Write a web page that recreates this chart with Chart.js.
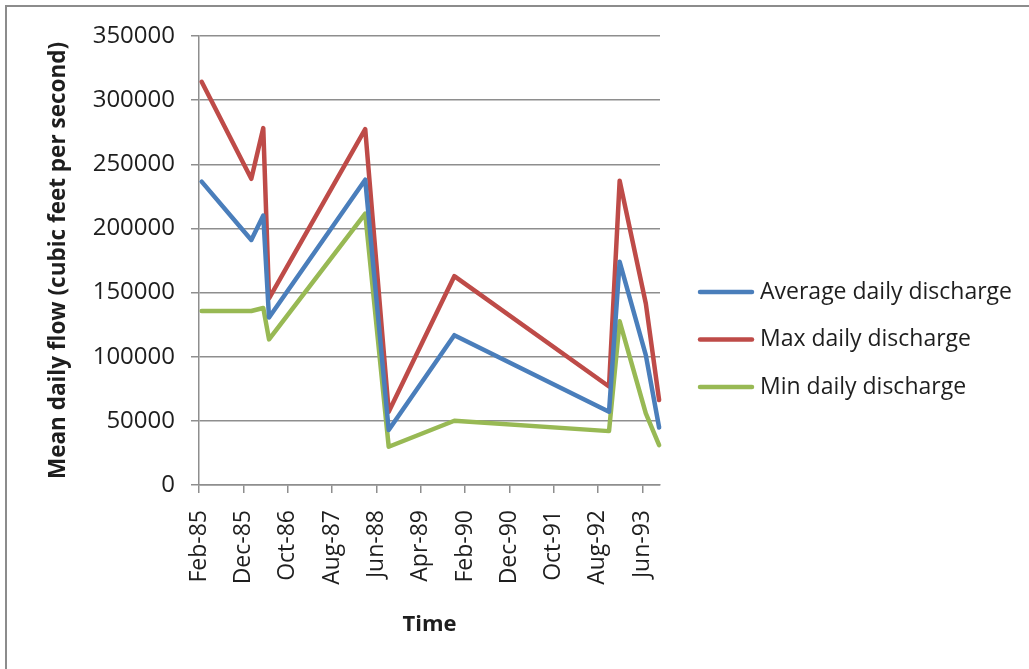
<!DOCTYPE html>
<html>
<head>
<meta charset="utf-8">
<script src="https://cdn.jsdelivr.net/npm/chart.js@4.4.1/dist/chart.umd.min.js"></script>
<style>
  html, body { margin: 0; padding: 0; background: #ffffff; }
  #wrap { position: relative; width: 1029px; height: 669px; overflow: hidden; }
  #frame { position: absolute; left: 5px; top: 5px; width: 1100px; height: 700px;
           border-left: 2px solid #8c8c8c; border-top: 2px solid #8c8c8c; box-sizing: border-box; }
  canvas { position: absolute; left: 0; top: 0; }
</style>
</head>
<body>
<div id="wrap">
  <div id="frame"></div>
  <canvas id="chart" width="1029" height="669"></canvas>
</div>
<script>
// Sample dates, as months counted from Feb 1985
const monthOffsets = [0.6, 11.8, 14.5, 15.8, 37.5, 42.8, 57.6, 92.5, 94.9, 100.8, 103.8];

// Discharge in cubic feet per second
const avgDischarge = [236500, 191000, 210000, 130500, 238000, 42800, 116800, 57100, 174000, 101200, 44800];
const maxDischarge = [314300, 238700, 278200, 145400, 277400, 57100, 162800, 76800, 237200, 141500, 66200];
const minDischarge = [135600, 135600, 138000, 113500, 211600, 29800, 50100, 42000, 127600, 55800, 31100];

// Date labels, one every ten months
const tickLabels = ['Feb-85', 'Dec-85', 'Oct-86', 'Aug-87', 'Jun-88', 'Apr-89',
                    'Feb-90', 'Dec-90', 'Oct-91', 'Aug-92', 'Jun-93'];

const seriesNames = ['Average daily discharge', 'Max daily discharge', 'Min daily discharge'];
const seriesColors = ['#4A7EBB', '#BE4B48', '#98B954'];

const toPoints = vals => monthOffsets.map((m, i) => ({ x: m, y: vals[i] }));

const FONT = '"Open Sans", "DejaVu Sans", sans-serif';
const GRID = '#8e8e8e';
const TEXT = '#1e1e1e';
const LINE_W = 4.5;

// Legend drawn beside the plot: short line swatch followed by the series name
const sideLegend = {
  id: 'sideLegend',
  afterDraw(chart) {
    const ctx = chart.ctx;
    const area = chart.chartArea;
    const rowGap = 47.5;
    const x0 = area.right + 40;
    const yMid = chart.height / 2 + 5;
    const n = chart.data.datasets.length;
    ctx.save();
    ctx.font = '23px ' + FONT;
    ctx.textBaseline = 'middle';
    ctx.textAlign = 'left';
    chart.data.datasets.forEach((ds, i) => {
      const y = yMid + (i - (n - 1) / 2) * rowGap;
      ctx.strokeStyle = ds.borderColor;
      ctx.lineWidth = LINE_W;
      ctx.lineCap = 'round';
      ctx.beginPath();
      ctx.moveTo(x0, y);
      ctx.lineTo(x0 + 52, y);
      ctx.stroke();
      ctx.fillStyle = TEXT;
      ctx.fillText(ds.label, x0 + 60, y);
    });
    ctx.restore();
  }
};

new Chart(document.getElementById('chart'), {
  type: 'line',
  data: {
    datasets: [avgDischarge, maxDischarge, minDischarge].map((vals, i) => ({
      label: seriesNames[i],
      data: toPoints(vals),
      borderColor: seriesColors[i],
      backgroundColor: seriesColors[i],
      borderWidth: LINE_W,
      borderJoinStyle: 'round',
      borderCapStyle: 'round',
      pointRadius: 0,
      tension: 0,
      clip: 8
    }))
  },
  options: {
    responsive: false,
    animation: false,
    layout: { padding: { left: 0, top: 36, right: 369, bottom: 0 } },
    plugins: {
      legend: { display: false },
      tooltip: { enabled: false }
    },
    scales: {
      x: {
        type: 'linear',
        min: 0,
        max: 104,
        afterFit(scale) { scale.height = 184; },
        border: { display: true, color: GRID, width: 1.5 },
        grid: { display: true, drawOnChartArea: false, drawTicks: true, tickLength: 8, color: GRID, lineWidth: 1.5 },
        ticks: {
          stepSize: 10,
          includeBounds: false,
          autoSkip: false,
          minRotation: 90,
          maxRotation: 90,
          padding: 17,
          color: TEXT,
          font: { family: FONT, size: 23 },
          callback: v => tickLabels[Math.round(v / 10)] || ''
        },
        title: {
          display: true,
          text: 'Time',
          color: TEXT,
          font: { family: FONT, size: 22, weight: 'bold', lineHeight: 1.2 },
          padding: { top: 0, bottom: 31 }
        }
      },
      y: {
        min: 0,
        max: 350000,
        afterFit(scale) { scale.width = 199; },
        border: { display: true, color: GRID, width: 1.5 },
        grid: { display: true, drawOnChartArea: true, drawTicks: true, tickLength: 8, color: GRID, lineWidth: 1.5 },
        ticks: {
          stepSize: 50000,
          padding: 16,
          color: TEXT,
          font: { family: FONT, size: 24 },
          callback: v => String(v)
        },
        title: {
          display: true,
          text: 'Mean daily flow (cubic feet per second)',
          color: TEXT,
          font: { family: FONT, size: 22.5, weight: 'bold', lineHeight: 1.2 },
          padding: { top: 45, bottom: 0 }
        }
      }
    }
  },
  plugins: [sideLegend]
});
</script>
</body>
</html>
